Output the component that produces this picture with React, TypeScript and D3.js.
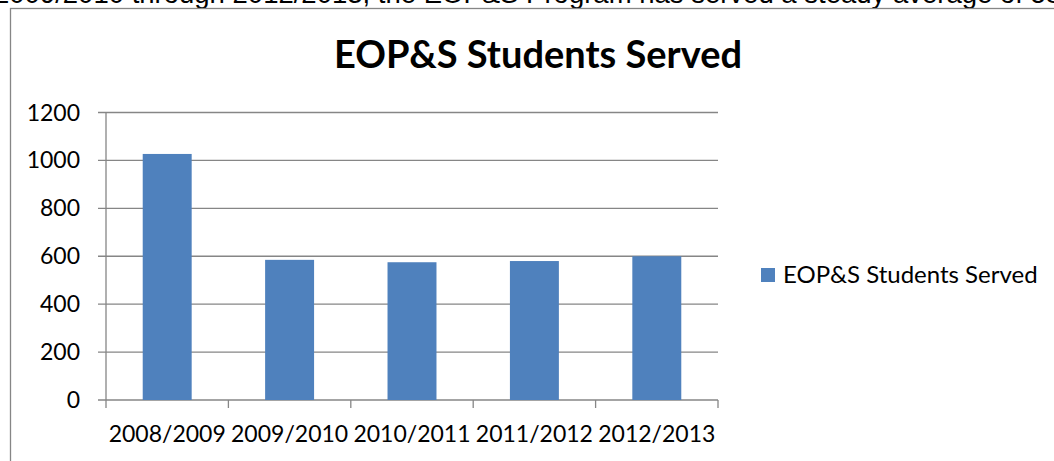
import React, { useEffect, useRef } from "react";
import * as d3 from "d3";

const categories = ["2008/2009", "2009/2010", "2010/2011", "2011/2012", "2012/2013"];
const studentsServed = [1027, 585, 575, 580, 600];
const yTicks = [0, 200, 400, 600, 800, 1000, 1200];
const seriesName = "EOP&S Students Served";
const chartTitle = "EOP&S Students Served";
const topText = "2009/2010 through 2012/2013, the EOP&S Program has served a steady average of 585 students per year.";

const W = 1054;
const H = 461;
const FONT = "Lato, 'Open Sans', sans-serif";

export default function App() {
  const ref = useRef<SVGSVGElement | null>(null);

  useEffect(() => {
    const svg = d3.select(ref.current);
    svg.selectAll("*").remove();

    const left = 106, right = 718, top = 112.5, bottom = 400;
    const x = d3.scaleBand<string>().domain(categories).range([left, right]).paddingInner(0.6).paddingOuter(0.3);
    const xOuter = d3.scaleBand<string>().domain(categories).range([left, right]);
    const y = d3.scaleLinear().domain([0, 1200]).range([bottom, top]);

    svg.append("rect").attr("width", W).attr("height", H).attr("fill", "#fff");

    // cut-off sentence at top
    svg.append("text")
      .attr("x", -6).attr("y", 3)
      .attr("font-family", "'Liberation Sans', Arial, sans-serif")
      .attr("font-size", 27.5)
      .attr("fill", "#000")
      .text(topText);

    // chart frame
    svg.append("rect")
      .attr("x", 10.5).attr("y", 8.5).attr("width", W + 20).attr("height", H + 20)
      .attr("fill", "none").attr("stroke", "#868686").attr("stroke-width", 1.3);

    // title
    svg.append("text")
      .attr("x", 538).attr("y", 68)
      .attr("text-anchor", "middle")
      .attr("font-family", FONT).attr("font-weight", 700).attr("font-size", 38)
      .attr("fill", "#000")
      .text(chartTitle);

    // gridlines
    svg.append("g").selectAll("line").data(yTicks).join("line")
      .attr("x1", left - 8).attr("x2", right)
      .attr("y1", (d) => y(d)).attr("y2", (d) => y(d))
      .attr("stroke", "#868686").attr("stroke-width", 1.3);

    // y axis line
    svg.append("line")
      .attr("x1", left).attr("x2", left).attr("y1", top).attr("y2", bottom)
      .attr("stroke", "#868686").attr("stroke-width", 1.3);

    // x ticks at category boundaries
    const bounds = categories.map((c) => xOuter(c) as number).concat([right]);
    svg.append("g").selectAll("line").data(bounds).join("line")
      .attr("x1", (d) => d).attr("x2", (d) => d).attr("y1", bottom).attr("y2", bottom + 8)
      .attr("stroke", "#868686").attr("stroke-width", 1.3);

    // y labels
    svg.append("g").selectAll("text").data(yTicks).join("text")
      .attr("x", 80).attr("y", (d) => y(d) + 8)
      .attr("text-anchor", "end")
      .attr("font-family", FONT).attr("font-size", 23).attr("fill", "#000")
      .text((d) => String(d));

    // x labels
    svg.append("g").selectAll("text").data(categories).join("text")
      .attr("x", (d) => (xOuter(d) as number) + xOuter.bandwidth() / 2)
      .attr("y", 442)
      .attr("text-anchor", "middle")
      .attr("font-family", FONT).attr("font-size", 23).attr("fill", "#000")
      .text((d) => d);

    // bars
    svg.append("g").selectAll("rect").data(studentsServed).join("rect")
      .attr("x", (_, i) => x(categories[i]) as number)
      .attr("width", x.bandwidth())
      .attr("y", (d) => y(d))
      .attr("height", (d) => bottom - y(d))
      .attr("fill", "#4F81BD");

    // legend
    svg.append("rect").attr("x", 761).attr("y", 268).attr("width", 14).attr("height", 14).attr("fill", "#4F81BD");
    svg.append("text")
      .attr("x", 783).attr("y", 283)
      .attr("font-family", FONT).attr("font-size", 24).attr("fill", "#000")
      .text(seriesName);
  }, []);

  return <svg ref={ref} width={W} height={H} style={{ position: "absolute", left: 0, top: 0 }} />;
}
